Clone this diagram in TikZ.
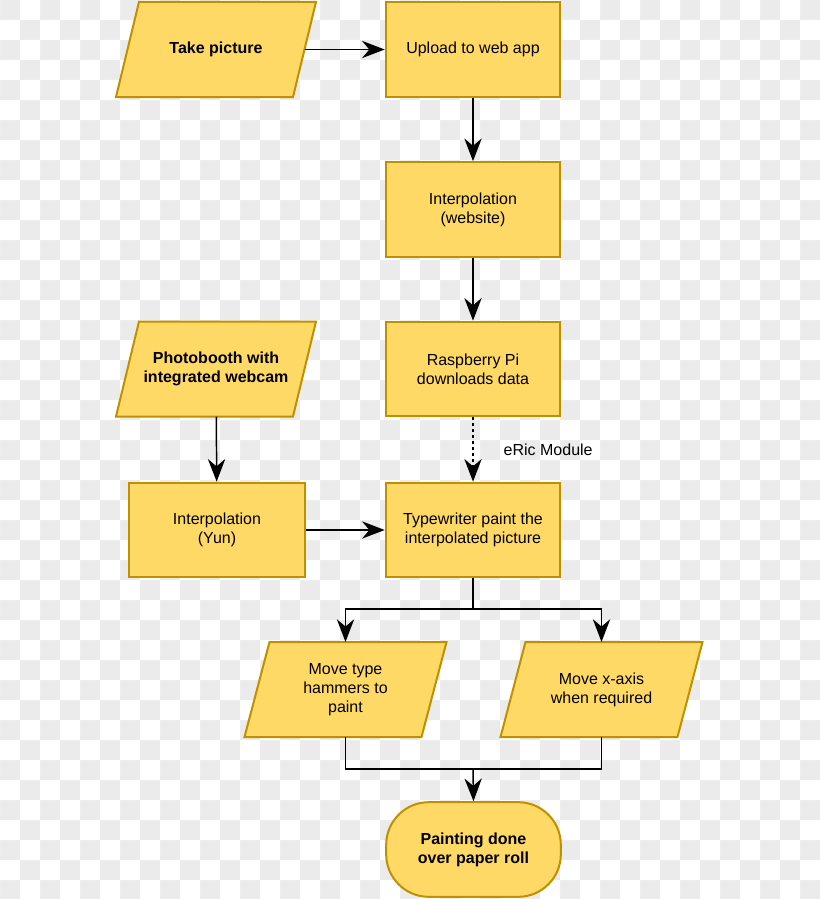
\documentclass[tikz,border=0pt]{standalone}
\usepackage{fontspec}
\setmainfont{Liberation Sans}
\usetikzlibrary{arrows.meta}
\definecolor{boxfill}{HTML}{FFD966}
\definecolor{boxline}{HTML}{BF9000}
\definecolor{chk}{HTML}{EBEBEB}
\newcommand\paraShape[4]{% x, y, half width, skew
  \filldraw[parashape] (#1-#3+#4,#2-47.5) -- (#1+#3+#4,#2-47.5) -- (#1+#3-#4,#2+47.5) -- (#1-#3-#4,#2+47.5) -- cycle;}
\begin{document}
\begin{tikzpicture}[x=0.75pt,y=-0.75pt,
  txt/.style={font=\fontsize{12}{14.4}\selectfont, align=center, text=black},
  box/.style={txt, draw=boxline, fill=boxfill, line width=1.5pt, minimum width=131pt, minimum height=71pt, inner sep=0pt},
  paranode/.style={txt, minimum width=133pt, minimum height=71pt, inner sep=0pt},
  parashape/.style={fill=boxfill, draw=boxline, line width=1.5pt, line join=miter},
  term/.style={box, rounded corners=32pt},
  strong/.style={font=\fontsize{12}{14.4}\selectfont\bfseries},
  arr/.style={line width=1.1pt, -{Stealth[length=17pt,width=13pt,inset=5.5pt]}},
  ln/.style={line width=1.1pt},
  dotted arr/.style={arr, dash pattern=on 2.25pt off 2.25pt}]
\useasboundingbox (0,0) rectangle (820,899);
% checkerboard background
\fill[chk] (0,0) rectangle (820,899);
\fill[white, even odd rule]
  \foreach \j in {0,2,...,42} {(0,\j*20) rectangle (820,\j*20+20)}
  (0,880) rectangle (820,899)
  \foreach \i in {0,2,...,40} {(\i*20,0) rectangle (\i*20+20,899)};
% parallelogram outlines
\paraShape{216}{49.5}{88.5}{11.5}
\paraShape{216}{369}{88.5}{11.5}
\paraShape{345.5}{689.5}{88.5}{12.5}
\paraShape{601.5}{689.5}{88.5}{12.5}
% nodes
\node[paranode, strong] (take) at (216,49.5) {Take picture};
\node[box] (upload) at (473,49.5) {Upload to web app};
\node[box] (web) at (473,209.5) {Interpolation\\(website)};
\node[paranode, strong] (photo) at (216,369) {Photobooth with\\integrated webcam};
\node[box] (rpi) at (473,369) {Raspberry Pi\\downloads data};
\node[box, minimum width=132.5pt] (yun) at (217,530) {Interpolation\\(Yun)};
\node[box] (tw) at (473,530) {Typewriter paint the\\interpolated picture};
\node[paranode] (hammer) at (345.5,689.5) {Move type\\hammers to\\paint};
\node[paranode] (xaxis) at (601.5,689.5) {Move x-axis\\when required};
\node[term, strong] (done) at (473.5,849.5) {Painting done\\over paper roll};
\node[txt, anchor=west] (eric) at (499,450) {eRic Module};
% connectors
\coordinate (split) at (473,609);
\coordinate (merge) at (473,769);
\draw[arr] (take) -- (upload);
\draw[arr] (upload) -- (web);
\draw[arr] (web) -- (rpi);
\draw[dotted arr] (rpi) -- (tw);
\draw[arr] (photo) -- (yun);
\draw[arr] (yun) -- (tw);
\draw[ln] (tw.south) -- (split);
\draw[arr] (split) -| (hammer.north);
\draw[arr] (split) -| (xaxis.north);
\draw[ln] (hammer.south) |- (merge);
\draw[ln] (xaxis.south) |- (merge);
\draw[arr] (merge) -- (done.north);
\end{tikzpicture}
\end{document}
